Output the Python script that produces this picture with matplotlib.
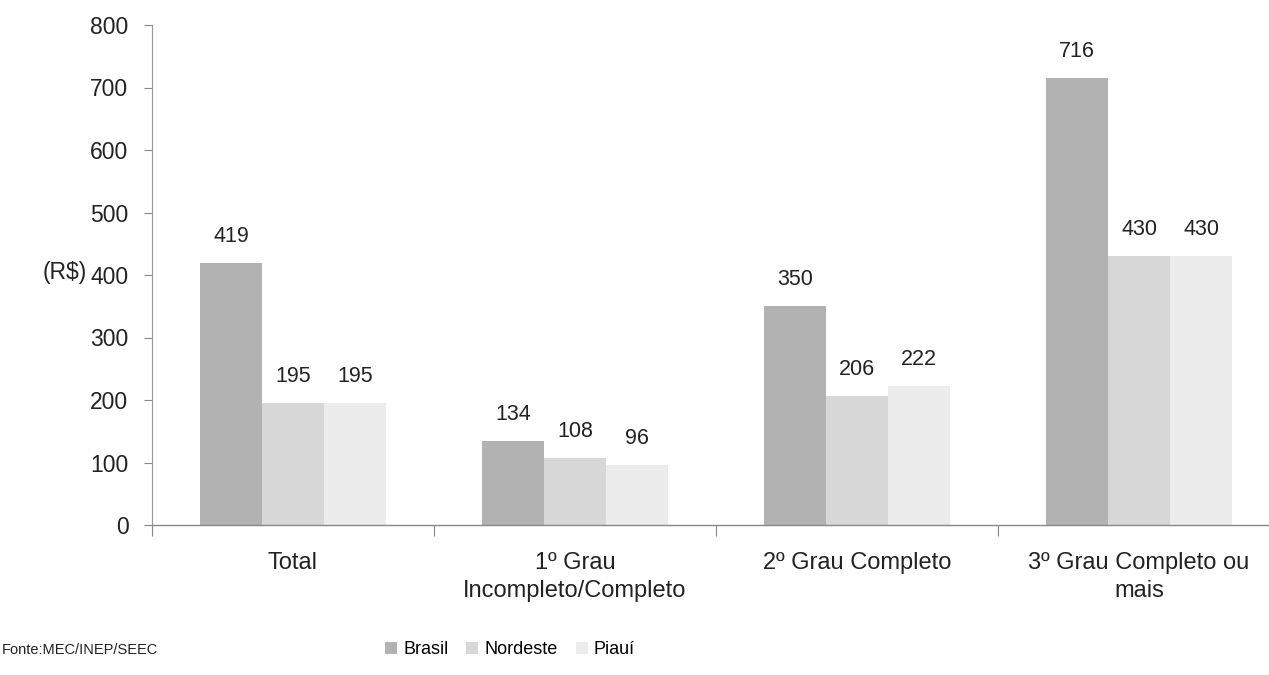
import numpy as np
import matplotlib.pyplot as plt
from matplotlib import font_manager

plt.rcParams['font.family'] = ['Liberation Sans', 'DejaVu Sans']

# renda media por escolaridade (R$)
categories = ['Total', '1º Grau\nIncompleto/Completo', '2º Grau Completo',
              '3º Grau Completo ou\nmais']
series = ['Brasil', 'Nordeste', 'Piauí']
brasil = [419, 134, 350, 716]
nordeste = [195, 108, 206, 430]
piaui = [195, 96, 222, 430]
yticks = [0, 100, 200, 300, 400, 500, 600, 700, 800]

colors = ['#b2b2b2', '#d7d7d7', '#ececec']
txt = '#222222'

fig = plt.figure(figsize=(12.69, 6.75), dpi=100)
ax = fig.add_axes([152 / 1269, 1 - 525 / 675, 1 - 152 / 1269, 500 / 675])

x = np.arange(len(categories))
w = 0.22
handles = []
for i, (name, vals) in enumerate(zip(series, [brasil, nordeste, piaui])):
    pos = x + (i - 1) * w
    b = ax.bar(pos, vals, width=w, color=colors[i], label=name)
    handles.append(b)
    for p, v in zip(pos, vals):
        ax.annotate(str(v), (p, v), xytext=(0, 19), textcoords='offset points',
                    ha='center', va='center', fontsize=15.5, color=txt)

ax.set_xlim(-0.5, (1269 - 152) / 282 - 0.5)
ax.set_ylim(0, 800)
ax.set_yticks(yticks)
ax.tick_params(axis='y', length=6, width=0.8, color='#888888', pad=11,
               labelsize=16.5, labelcolor=txt)

ax.set_xticks(x)
ax.set_xticklabels(categories, fontsize=17, color=txt, linespacing=1.35)
ax.tick_params(axis='x', which='major', length=0, pad=19.5)
ax.set_xticks(np.arange(len(categories)) - 0.5, minor=True)
ax.tick_params(axis='x', which='minor', length=8, width=0.8, color='#888888')

for s in ['top', 'right']:
    ax.spines[s].set_visible(False)
ax.spines['left'].set_color('#999999')
ax.spines['bottom'].set_color('#888888')
ax.spines['left'].set_linewidth(0.8)
ax.spines['bottom'].set_linewidth(1.0)

fig.text(65 / 1269, 1 - 273 / 675, '(R$)', ha='center', va='center',
         fontsize=16.5, color=txt)

# source line is set in a condensed face in the original
names = {f.name for f in font_manager.fontManager.ttflist}
if 'Liberation Sans Narrow' in names:
    fonte_kw = dict(family='Liberation Sans Narrow', fontsize=12.5)
else:
    fonte_kw = dict(fontsize=10.5)
fig.text(0.001, 1 - 650 / 675, 'Fonte:MEC/INEP/SEEC', ha='left', va='center',
         color=txt, **fonte_kw)

fig.legend(handles, series, loc='center', bbox_to_anchor=(510 / 1269, 1 - 650 / 675),
           ncol=3, frameon=False, fontsize=13, handlelength=0.65, handleheight=0.65,
           handletextpad=0.35, columnspacing=1.0)

fig.savefig('out.png', dpi=100)
